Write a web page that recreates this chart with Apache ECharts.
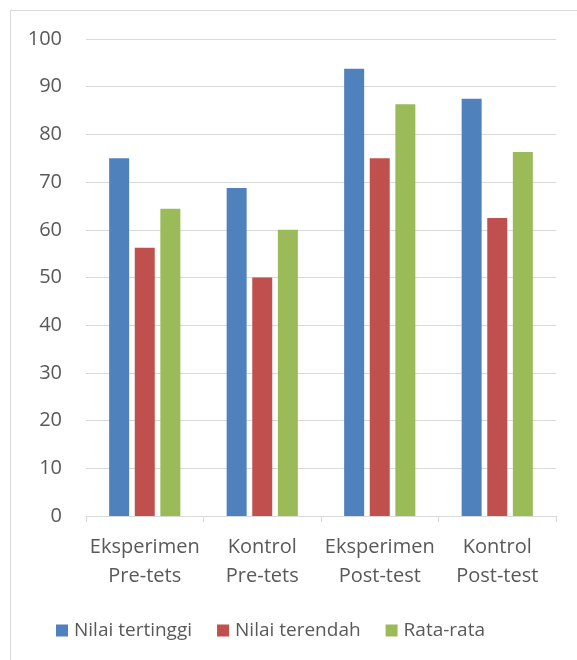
<!DOCTYPE html>
<html>
<head>
<meta charset="utf-8">
<script src="https://cdn.jsdelivr.net/npm/echarts@6/dist/echarts.min.js"></script>
<style>
  html, body { margin: 0; padding: 0; background: #fff; }
  #frame { position: absolute; left: 10px; top: 10px; width: 580px; height: 660px; border: 1px solid #d9d9d9; box-sizing: border-box; }
  #chart { position: absolute; left: 0; top: 0; width: 577px; height: 660px; }
</style>
</head>
<body>
<div id="frame"></div>
<div id="chart"></div>
<script>
// Test groups and scores
const categories = ['Eksperimen\nPre-tets', 'Kontrol\nPre-tets', 'Eksperimen\nPost-test', 'Kontrol\nPost-test'];
const seriesNames = ['Nilai tertinggi', 'Nilai terendah', 'Rata-rata'];
const nilaiTertinggi = [75, 68.75, 93.75, 87.5];
const nilaiTerendah = [56.25, 50, 75, 62.5];
const rataRata = [64.4, 60, 86.3, 76.3];
const yTicks = { min: 0, max: 100, interval: 10 };

const colors = ['#4f81bd', '#c0504d', '#9bbb59'];
const font = 'Open Sans, Liberation Sans, sans-serif';

const chart = echarts.init(document.getElementById('chart'), null, { renderer: 'canvas' });
chart.setOption({
  animation: false,
  color: colors,
  grid: { left: 86, right: 21, top: 39, bottom: 144, containLabel: false },
  legend: {
    bottom: 15,
    left: 51,
    itemWidth: 12,
    itemHeight: 12,
    itemGap: 25,
    icon: 'rect',
    textStyle: { fontFamily: font, fontSize: 19, color: '#595959', padding: [0, 0, 0, 1] },
    data: seriesNames
  },
  xAxis: {
    type: 'category',
    data: categories,
    axisLine: { lineStyle: { color: '#d9d9d9', width: 1 } },
    axisTick: { show: true, length: 6, lineStyle: { color: '#d9d9d9' } },
    axisLabel: { fontFamily: font, fontSize: 20, color: '#595959', lineHeight: 29, margin: 17, interval: 0 }
  },
  yAxis: {
    type: 'value',
    min: yTicks.min,
    max: yTicks.max,
    interval: yTicks.interval,
    axisLine: { show: false },
    axisTick: { show: false },
    splitLine: { lineStyle: { color: '#d9d9d9', width: 1 } },
    axisLabel: { fontFamily: font, fontSize: 20, color: '#595959', margin: 24 }
  },
  series: [
    { name: seriesNames[0], type: 'bar', data: nilaiTertinggi, barWidth: 20, barGap: '28%' },
    { name: seriesNames[1], type: 'bar', data: nilaiTerendah, barWidth: 20, barGap: '28%' },
    { name: seriesNames[2], type: 'bar', data: rataRata, barWidth: 20, barGap: '28%' }
  ]
});
</script>
</body>
</html>
